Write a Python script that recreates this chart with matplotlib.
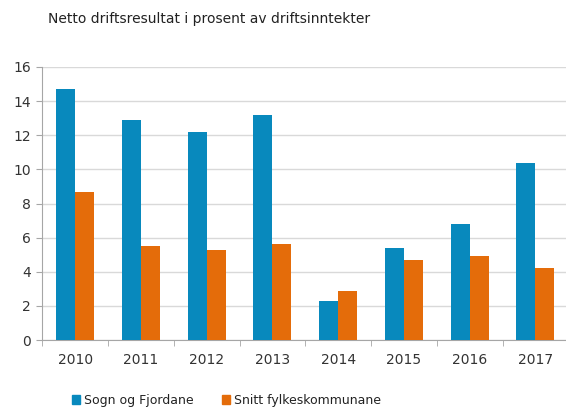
import numpy as np
import matplotlib.pyplot as plt
from matplotlib.patches import Patch

years = ['2010', '2011', '2012', '2013', '2014', '2015', '2016', '2017']
sogn_fjordane = [14.7, 12.9, 12.2, 13.2, 2.3, 5.4, 6.8, 10.4]
snitt_fylke = [8.7, 5.5, 5.3, 5.6, 2.9, 4.7, 4.9, 4.2]

blue = '#0889bd'
orange = '#e46c0a'
grey = '#a6a6a6'

fig = plt.figure(figsize=(5.66, 4.07), dpi=100)
# axis runs off the right edge of the picture, as in the original
ax = fig.add_axes([0.0747, 0.1646, 0.9293, 0.6708])

x = np.arange(len(years))
w = 0.29
ax.bar(x - w / 2, sogn_fjordane, w, color=blue, zorder=3)
ax.bar(x + w / 2, snitt_fylke, w, color=orange, zorder=3)

ax.set_xlim(-0.5, len(years) - 0.5)
ax.set_ylim(0, 16)
ax.set_yticks(np.arange(0, 17, 2))
ax.set_xticks(x)
ax.set_xticklabels(years)
ax.set_xticks(np.arange(-0.5, len(years), 1), minor=True)
ax.tick_params(axis='x', which='major', length=0, pad=9, labelsize=10, labelcolor='#333333')
ax.tick_params(axis='x', which='minor', length=4, color=grey, direction='out')
ax.tick_params(axis='y', length=4, color=grey, labelsize=10, labelcolor='#333333', pad=4)

ax.yaxis.grid(True, color='#d9d9d9', linewidth=1)
ax.set_axisbelow(True)
for s in ['top', 'right']:
    ax.spines[s].set_visible(False)
ax.spines['left'].set_color(grey)
ax.spines['bottom'].set_color(grey)

fig.text(0.085, 0.953, 'Netto driftsresultat i prosent av driftsinntekter',
         fontsize=10, color='#222222', va='center', ha='left')

handles = [Patch(color=blue, label='Sogn og Fjordane'),
           Patch(color=orange, label='Snitt fylkeskommunane')]
fig.legend(handles=handles, loc='center left', bbox_to_anchor=(0.127, 0.016), ncol=2,
           frameon=False, fontsize=9, handlelength=0.65, handleheight=0.65,
           handletextpad=0.3, columnspacing=2.3, borderpad=0, borderaxespad=0,
           labelcolor='#222222')

fig.savefig('out.png', dpi=100)
